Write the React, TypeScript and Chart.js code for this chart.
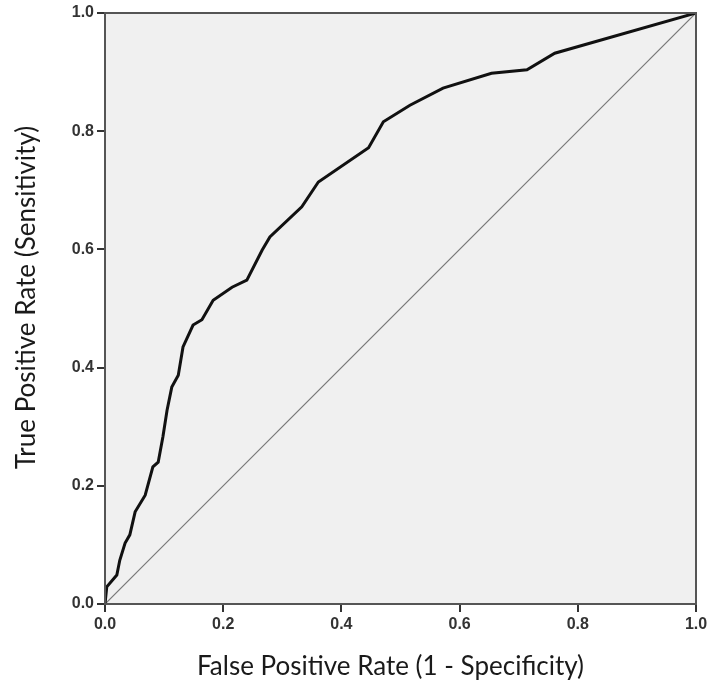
import React, { useEffect, useRef } from "react";
import { Chart, registerables } from "chart.js";

Chart.register(...registerables);

const fprValues = [0, 0.003, 0.02, 0.025, 0.034, 0.042, 0.051, 0.068, 0.081, 0.09, 0.098, 0.105, 0.113, 0.124, 0.132, 0.149, 0.164, 0.183, 0.215, 0.24, 0.266, 0.279, 0.333, 0.361, 0.446, 0.471, 0.516, 0.572, 0.654, 0.714, 0.761, 1.0];
const tprValues = [0, 0.029, 0.049, 0.074, 0.103, 0.117, 0.156, 0.184, 0.232, 0.24, 0.283, 0.328, 0.367, 0.387, 0.435, 0.472, 0.481, 0.514, 0.536, 0.548, 0.599, 0.621, 0.672, 0.714, 0.772, 0.816, 0.844, 0.873, 0.898, 0.904, 0.932, 1.0];
const referenceX = [0, 1];
const referenceY = [0, 1];
const tickValues = [0, 0.2, 0.4, 0.6, 0.8, 1.0];
const xTitle = "False Positive Rate (1 - Specificity)";
const yTitle = "True Positive Rate (Sensitivity)";

const framePlugin = {
  id: "frame",
  beforeDatasetsDraw(chart: any) {
    const { ctx, chartArea: a } = chart;
    ctx.save();
    ctx.fillStyle = "#f0f0f0";
    ctx.fillRect(a.left, a.top, a.right - a.left, a.bottom - a.top);
    ctx.restore();
  },
  afterDatasetsDraw(chart: any) {
    const { ctx, chartArea: a } = chart;
    ctx.save();
    ctx.strokeStyle = "#555";
    ctx.lineWidth = 2;
    ctx.strokeRect(a.left, a.top, a.right - a.left, a.bottom - a.top);
    ctx.restore();
  },
  afterDraw(chart: any) {
    const { ctx, chartArea: a } = chart;
    ctx.save();
    ctx.fillStyle = "#1a1a1a";
    ctx.font = "26px Lato";
    ctx.textAlign = "center";
    ctx.textBaseline = "alphabetic";
    ctx.fillText(xTitle, (a.left + a.right) / 2 - 10, 675);
    ctx.translate(35, (a.top + a.bottom) / 2 - 11);
    ctx.rotate(-Math.PI / 2);
    ctx.fillText(yTitle, 0, 0);
    ctx.restore();
  },
};

export default function App() {
  const ref = useRef<HTMLCanvasElement>(null);
  useEffect(() => {
    const canvas = ref.current!;
    const axisCommon = () => ({
      type: "linear" as const,
      min: 0,
      max: 1,
      afterBuildTicks: (s: any) => {
        s.ticks = tickValues.map((v) => ({ value: v }));
      },
      grid: {
        drawOnChartArea: false,
        drawTicks: true,
        tickLength: 8,
        color: "#333",
        lineWidth: 2,
      },
      border: { display: true, color: "#555", width: 2 },
      ticks: {
        color: "#333",
        font: { family: "Liberation Sans", size: 16, weight: "bold" as const },
        callback: (v: any) => Number(v).toFixed(1),
        padding: 3,
        maxRotation: 0,
        autoSkip: false,
      },
    });
    const chart = new Chart(canvas, {
      type: "scatter",
      data: {
        datasets: [
          {
            data: fprValues.map((x, i) => ({ x, y: tprValues[i] })),
            showLine: true,
            borderColor: "#111",
            borderWidth: 3,
            pointRadius: 0,
            tension: 0,
          },
          {
            data: referenceX.map((x, i) => ({ x, y: referenceY[i] })),
            showLine: true,
            borderColor: "#777",
            borderWidth: 1.2,
            pointRadius: 0,
          },
        ],
      },
      options: {
        animation: false,
        responsive: false,
        devicePixelRatio: 1,
        layout: { padding: { left: 0, top: 13, right: 15, bottom: 0 } },
        plugins: { legend: { display: false }, tooltip: { enabled: false } },
        scales: {
          x: {
            ...axisCommon(),
            position: "bottom",
            afterFit: (s: any) => {
              s.height = 81;
            },
          },
          y: {
            ...axisCommon(),
            position: "left",
            afterFit: (s: any) => {
              s.width = 105;
            },
          },
        },
      },
      plugins: [framePlugin],
    });
    return () => chart.destroy();
  }, []);
  return (
    <div style={{ position: "absolute", left: 0, top: 0, width: 711, height: 685, background: "#fff" }}>
      <canvas ref={ref} width={711} height={685} style={{ width: 711, height: 685 }} />
    </div>
  );
}
